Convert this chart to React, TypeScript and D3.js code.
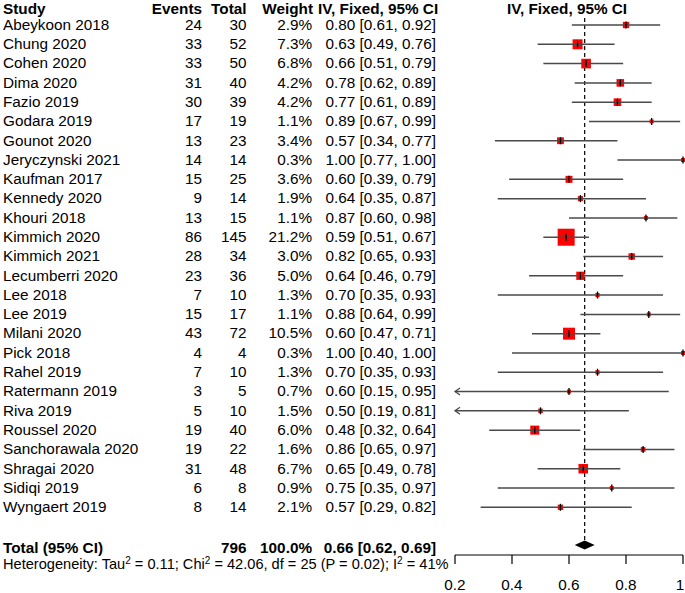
import React from "react";
import * as d3 from "d3";

const studies = ["Abeykoon 2018","Chung 2020","Cohen 2020","Dima 2020","Fazio 2019","Godara 2019","Gounot 2020","Jeryczynski 2021","Kaufman 2017","Kennedy 2020","Khouri 2018","Kimmich 2020","Kimmich 2021","Lecumberri 2020","Lee 2018","Lee 2019","Milani 2020","Pick 2018","Rahel 2019","Ratermann 2019","Riva 2019","Roussel 2020","Sanchorawala 2020","Shragai 2020","Sidiqi 2019","Wyngaert 2019"];
const events = [24,33,33,31,30,17,13,14,15,9,13,86,28,23,7,15,43,4,7,3,5,19,19,31,6,8];
const totals = [30,52,50,40,39,19,23,14,25,14,15,145,34,36,10,17,72,4,10,5,10,40,22,48,8,14];
const weights = [2.9,7.3,6.8,4.2,4.2,1.1,3.4,0.3,3.6,1.9,1.1,21.2,3.0,5.0,1.3,1.1,10.5,0.3,1.3,0.7,1.5,6.0,1.6,6.7,0.9,2.1];
const estimates = [0.80,0.63,0.66,0.78,0.77,0.89,0.57,1.00,0.60,0.64,0.87,0.59,0.82,0.64,0.70,0.88,0.60,1.00,0.70,0.60,0.50,0.48,0.86,0.65,0.75,0.57];
const lowers = [0.61,0.49,0.51,0.62,0.61,0.67,0.34,0.77,0.39,0.35,0.60,0.51,0.65,0.46,0.35,0.64,0.47,0.40,0.35,0.15,0.19,0.32,0.65,0.49,0.35,0.29];
const uppers = [0.92,0.76,0.79,0.89,0.89,0.99,0.77,1.00,0.79,0.87,0.98,0.67,0.93,0.79,0.93,0.99,0.71,1.00,0.93,0.95,0.81,0.64,0.97,0.78,0.97,0.82];
const axisTicks = [0.2, 0.4, 0.6, 0.8, 1];
const axisTickLabels = ["0.2", "0.4", "0.6", "0.8", "1"];
const totalN = 796;
const totalWeight = "100.0%";
const pooledEstimate = 0.655;
const pooledLower = 0.62;
const pooledUpper = 0.69;
const pooledText = "0.66 [0.62, 0.69]";

const FONT = "'Liberation Sans', Arial, sans-serif";
const fmt = d3.format(".2f");

export default function App() {
  const W = 685, H = 593;
  const x = d3.scaleLinear().domain([0.2, 1]).range([455, 683]);
  const y = d3.scaleLinear().domain([0, studies.length - 1]).range([25, 507.3]);
  const side = d3.scaleSqrt().domain([0, 21.2]).range([0, 17]);
  const fs = 15.3;
  const headerBase = 14;
  const rowOff = 4.8;
  const totalBase = 552.8;
  const diamondY = 545;
  const hetBase = 569.3;
  const axisY = 555;
  const cols = { study: 3, events: 202, total: 246.5, weight: 312, ci: 436 };
  const lineColor = "#4a4a4a";
  const sup = (k: string) => (
    <tspan dy={-5} fontSize={10}>2</tspan>
  );

  return (
    <svg width={W} height={H} style={{ position: "absolute", left: 0, top: 0, background: "#fff" }} fontFamily={FONT}>
      {/* header */}
      <g fontWeight="bold" fontSize={fs}>
        <text x={cols.study} y={headerBase}>Study</text>
        <text x={cols.events} y={headerBase} textAnchor="end">Events</text>
        <text x={cols.total} y={headerBase} textAnchor="end">Total</text>
        <text x={cols.weight + 1} y={headerBase} textAnchor="end">Weight</text>
        <text x={318} y={headerBase}>IV, Fixed, 95% CI</text>
        <text x={567} y={headerBase} textAnchor="middle">IV, Fixed, 95% CI</text>
      </g>

      {/* rows text */}
      <g fontSize={fs}>
        {studies.map((s, i) => (
          <g key={s}>
            <text x={cols.study} y={y(i) + rowOff}>{s}</text>
            <text x={cols.events} y={y(i) + rowOff} textAnchor="end">{events[i]}</text>
            <text x={cols.total} y={y(i) + rowOff} textAnchor="end">{totals[i]}</text>
            <text x={cols.weight} y={y(i) + rowOff} textAnchor="end">{weights[i].toFixed(1)}%</text>
            <text x={cols.ci} y={y(i) + rowOff} textAnchor="end">{`${fmt(estimates[i])} [${fmt(lowers[i])}, ${fmt(uppers[i])}]`}</text>
          </g>
        ))}
      </g>

      {/* dashed pooled line */}
      <line x1={x(pooledEstimate)} x2={x(pooledEstimate)} y1={18} y2={diamondY - 4} stroke="#000" strokeWidth={1.2} strokeDasharray="4,3" />

      {/* study marks */}
      {studies.map((s, i) => {
        const yi = y(i);
        const lo = Math.max(lowers[i], 0.2);
        const clipped = lowers[i] < 0.2;
        const sz = Math.max(4, side(weights[i]));
        const cx = x(estimates[i]);
        return (
          <g key={s + "m"}>
            <rect x={cx - sz / 2} y={yi - sz / 2} width={sz} height={sz} fill="#ff0000" />
            <line x1={x(lo)} x2={x(uppers[i])} y1={yi} y2={yi} stroke={lineColor} strokeWidth={1.5} />
            {clipped && (
              <path d={`M${x(0.2) + 5},${yi - 3.5} L${x(0.2)},${yi} L${x(0.2) + 5},${yi + 3.5}`} fill="none" stroke={lineColor} strokeWidth={1.3} />
            )}
            <line x1={cx} x2={cx} y1={yi - 3.5} y2={yi + 3.5} stroke="#000" strokeWidth={1.3} />
          </g>
        );
      })}

      {/* total row */}
      <g fontSize={fs} fontWeight="bold">
        <text x={cols.study} y={totalBase}>Total (95% CI)</text>
        <text x={cols.total} y={totalBase} textAnchor="end">{totalN}</text>
        <text x={cols.weight} y={totalBase} textAnchor="end">{totalWeight}</text>
        <text x={cols.ci} y={totalBase} textAnchor="end">{pooledText}</text>
      </g>
      <path
        d={`M${x(pooledLower)},${diamondY} L${x(pooledEstimate)},${diamondY - 4.5} L${x(pooledUpper)},${diamondY} L${x(pooledEstimate)},${diamondY + 4.5} Z`}
        fill="#000"
      />

      {/* heterogeneity */}
      <text x={3} y={hetBase} fontSize={14.6}>
        Heterogeneity: Tau{sup("a")}<tspan dy={5}> = 0.11; Chi</tspan>{sup("b")}<tspan dy={5}> = 42.06, df = 25 (P = 0.02); I</tspan>{sup("c")}<tspan dy={5}> = 41%</tspan>
      </text>

      {/* axis */}
      <line x1={x(0.2)} x2={x(1)} y1={axisY} y2={axisY} stroke="#000" strokeWidth={1.2} />
      {axisTicks.map((t, i) => (
        <g key={t}>
          <line x1={x(t)} x2={x(t)} y1={axisY} y2={axisY + 9} stroke="#000" strokeWidth={1.2} />
          <text x={Math.min(x(t), W - 5)} y={590} fontSize={fs} textAnchor="middle">{axisTickLabels[i]}</text>
        </g>
      ))}
    </svg>
  );
}
